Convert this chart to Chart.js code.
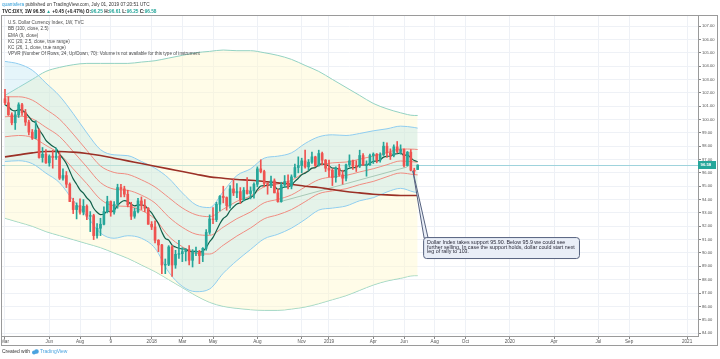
<!DOCTYPE html>
<html>
<head>
<meta charset="utf-8">
<script src="https://cdn.jsdelivr.net/npm/chart.js@4.4.1/dist/chart.umd.min.js"></script>
<style>
  html, body { margin: 0; padding: 0; background: #fff; }
  canvas { display: block; }
</style>
</head>
<body>
<canvas id="chart" width="720" height="359"></canvas>
<script>
// weekly DXY candles, week 0 = 6 Mar 2017, week 121 = 1 Jul 2019
const opens = [
  101.55,101.25,100.35,99.75,100.35,101.10,100.50,99.80,99.05,98.60,
  99.20,97.15,97.40,96.75,97.25,97.15,97.25,95.60,95.80,95.15,
  93.85,93.25,93.55,93.05,93.50,92.75,92.80,91.30,91.85,92.15,
  93.10,93.85,93.05,93.65,94.90,94.80,94.40,93.60,92.75,93.10,
  93.90,93.55,93.35,92.15,91.95,90.95,90.60,89.10,89.15,90.45,
  89.10,89.90,89.95,90.10,90.25,89.45,90.05,90.10,89.80,90.35,
  91.55,92.55,92.50,93.65,94.25,94.15,93.55,94.80,94.50,94.60,
  94.00,94.70,94.45,94.65,95.15,96.30,96.10,95.20,95.10,95.40,
  94.50,93.85,95.10,95.35,95.00,95.70,96.40,96.55,96.90,96.45,
  96.80,97.20,96.55,97.45,96.95,96.35,96.20,95.65,96.35,95.85,
  95.60,96.60,96.90,96.55,96.50,97.30,96.55,96.60,97.30,97.40,
  96.95,97.35,98.00,97.50,97.30,97.95,97.60,97.75,96.55,97.55,
  96.20,96.25
];
const highs = [
  102.26,101.70,100.50,100.60,101.25,101.20,100.75,99.95,99.25,99.90,
  99.30,97.90,97.75,97.35,97.70,97.85,97.55,96.30,96.10,95.25,
  94.10,93.75,94.05,94.00,93.60,93.10,92.90,92.20,92.60,93.45,
  94.25,93.90,93.85,95.15,95.15,95.00,94.70,93.80,93.35,94.10,
  94.20,94.00,93.40,92.35,92.40,91.00,90.65,89.55,90.55,90.55,
  90.20,90.95,90.40,90.30,90.55,90.25,90.45,90.20,90.40,91.75,
  92.85,93.40,93.80,94.30,95.00,94.20,95.05,95.55,95.20,94.90,
  94.90,95.65,94.95,95.25,96.45,96.98,96.20,95.25,95.75,95.55,
  94.80,95.30,95.80,95.85,95.85,96.65,97.20,97.10,97.70,97.00,
  97.55,97.25,97.70,97.55,97.00,96.95,96.30,96.45,96.65,96.20,
  96.65,97.35,96.95,96.90,97.70,97.45,96.90,97.40,97.50,97.45,
  97.50,98.30,98.25,97.80,98.10,98.35,98.10,97.80,97.60,97.75,
  96.35,96.61
];
const lows = [
  101.10,100.30,99.60,99.25,100.15,100.30,99.55,98.85,98.50,98.55,
  97.10,96.80,96.70,96.50,96.35,97.00,95.50,95.45,94.90,93.85,
  92.95,92.55,92.90,92.85,92.50,91.60,91.00,91.10,91.30,92.10,
  93.00,92.75,92.90,93.35,94.20,94.20,93.45,92.50,92.60,93.00,
  93.25,93.10,92.15,91.75,90.75,90.10,88.45,88.45,89.05,88.25,
  88.85,89.60,89.35,89.40,89.10,88.95,89.80,89.20,89.35,90.20,
  91.40,92.20,92.35,93.15,93.75,93.20,93.35,94.30,94.15,93.70,
  93.90,94.40,94.05,94.10,94.95,96.00,94.95,94.40,94.90,94.50,
  93.80,93.80,94.90,94.80,94.80,95.65,96.00,96.00,96.35,96.20,
  96.70,96.45,96.50,96.60,96.10,95.70,95.05,95.30,95.75,95.15,
  95.40,96.45,96.25,96.10,96.40,96.55,95.75,96.55,96.70,96.75,
  96.80,97.30,97.15,97.00,97.20,97.50,97.40,96.45,96.50,96.15,
  95.85,96.25
];
const closes = [
  101.25,100.35,99.75,100.35,101.10,100.50,99.80,99.05,98.60,99.20,
  97.15,97.40,96.75,97.25,97.15,97.25,95.60,95.80,95.15,93.85,
  93.25,93.55,93.05,93.50,92.75,92.80,91.30,91.85,92.15,93.10,
  93.85,93.05,93.65,94.90,94.80,94.40,93.60,92.75,93.10,93.90,
  93.55,93.35,92.15,91.95,90.95,90.60,89.10,89.15,90.45,89.10,
  89.90,89.95,90.10,90.25,89.45,90.10,90.15,89.80,90.35,91.55,
  92.55,92.50,93.65,94.25,94.15,93.55,94.80,94.50,94.60,94.00,
  94.70,94.45,94.65,95.15,96.30,96.10,95.20,95.10,95.40,94.50,
  93.85,95.10,95.35,95.00,95.70,96.40,96.55,96.90,96.45,96.80,
  97.20,96.55,97.45,96.95,96.35,96.20,95.65,96.35,95.85,95.60,
  96.60,96.90,96.50,96.45,97.30,96.60,96.65,97.30,97.40,96.95,
  97.35,98.00,97.50,97.30,97.95,97.60,97.75,96.55,97.55,96.20,
  96.13,96.58
];

// EMA (9, close), one value per week
const ema9 = [
  101.10,100.95,100.71,100.64,100.73,100.68,100.50,100.21,99.89,99.75,
  99.23,98.86,98.44,98.20,97.99,97.84,97.39,97.07,96.69,96.12,
  95.55,95.15,94.73,94.48,94.13,93.86,93.35,93.05,92.87,92.92,
  93.11,93.10,93.21,93.55,93.80,93.92,93.86,93.64,93.53,93.60,
  93.59,93.54,93.26,93.00,92.59,92.19,91.57,91.09,90.96,90.59,
  90.45,90.35,90.30,90.29,90.12,90.12,90.12,90.06,90.12,90.41,
  90.84,91.17,91.67,92.19,92.58,92.77,93.18,93.44,93.67,93.74,
  93.93,94.03,94.15,94.35,94.74,95.01,95.05,95.06,95.13,95.00,
  94.77,94.84,94.94,94.95,95.10,95.36,95.60,95.86,95.98,96.14,
  96.35,96.39,96.60,96.67,96.61,96.53,96.35,96.35,96.25,96.12,
  96.22,96.36,96.39,96.41,96.59,96.59,96.59,96.73,96.86,96.88,
  96.97,97.18,97.24,97.25,97.39,97.43,97.49,97.30,97.35,97.12,
  96.92,96.85
];

// band lines read every 4 weeks
const bandWeeks = [0,4,8,12,16,20,24,28,32,36,40,44,48,52,56,60,64,68,72,76,80,84,88,92,96,100,104,108,112,116,120,121];
const bbUpper = [101.8,102.4,103.0,103.6,103.9,104.1,104.2,104.2,104.2,104.2,104.3,104.4,104.6,104.8,105.0,105.1,105.2,105.15,105.15,105.0,104.8,104.5,104.05,103.6,103.0,102.4,101.8,101.2,100.8,100.5,100.3,100.3];
const bbBasis = [97.2,97.35,97.5,97.6,97.6,97.55,97.45,97.3,97.1,96.9,96.7,96.5,96.3,96.1,95.9,95.7,95.6,95.5,95.45,95.35,95.25,95.15,95.0,94.9,94.75,94.6,94.5,94.4,94.35,94.3,94.3,94.3];
const bbLower = [92.6,92.3,92.0,91.6,91.3,91.0,90.7,90.4,90.0,89.6,89.1,88.6,88.0,87.4,86.8,86.3,86.0,85.85,85.75,85.7,85.7,85.8,85.95,86.2,86.5,86.8,87.2,87.6,87.9,88.1,88.3,88.3];
const kc20Upper = [104.35,104.16,103.69,102.73,101.76,100.44,99.0,97.74,97.35,97.29,96.85,96.35,95.60,94.50,93.60,93.40,94.60,95.80,96.30,97.10,97.25,97.50,98.20,98.70,98.85,98.80,98.95,99.15,99.30,99.50,99.40,99.35];
const kc20Lower = [96.85,96.91,96.69,95.98,95.26,93.94,92.76,91.49,91.10,91.29,91.10,90.35,88.57,87.50,87.10,87.30,88.48,89.43,90.26,91.06,91.40,91.86,92.51,93.21,93.36,93.52,93.91,94.14,94.57,94.84,94.56,94.53];
const kc26Upper = [101.70,101.70,101.45,100.76,100.02,98.90,97.69,96.52,96.03,95.89,95.48,94.94,94.15,93.37,92.86,92.72,93.28,93.87,94.27,94.96,95.16,95.45,96.04,96.54,96.75,96.81,97.02,97.26,97.51,97.79,97.77,97.75];
const kc26Mid = [100.2,100.25,100.05,99.41,98.72,97.60,96.44,95.27,94.78,94.69,94.33,93.74,92.70,91.92,91.41,91.32,91.93,92.57,93.07,93.76,94.01,94.35,94.94,95.49,95.70,95.81,96.07,96.31,96.61,96.89,96.82,96.80];
const kc26Lower = [98.70,98.80,98.65,98.06,97.42,96.30,95.19,94.02,93.53,93.49,93.18,92.54,91.25,90.47,89.96,89.92,90.58,91.27,91.87,92.56,92.86,93.25,93.84,94.44,94.65,94.81,95.12,95.36,95.71,95.99,95.87,95.85];

// drawn trend line (week, value)
const trendWeeks = [80.4, 117.9];
const trendValues = [93.82, 96.44];

// x axis labels at the first weekly bar of the month
const tickWeeks = [0,13,22,31,43,52,61,74,87,95,108,117,126,135,148,161,174,183,200];
const tickLabels = ['Mar','Jun','Aug','9','2018','Mar','May','Aug','Nov','2019','Apr','Jun','Aug','Oct','2020','Apr','Jul','Sep','2021'];
const priceTicks = [84,85,86,87,88,89,90,91,92,93,94,95,96,97,98,99,100,101,102,103,104,105,106,107];

const lastPrice = 96.58;

// callout: anchor (week, value) and box corners (week, value)
const noteAnchor = [119.6, 96.15];
const noteBox = [122.6, 91.19, 168.3, 89.62];
const noteLines = [
  'Dollar Index takes support 95.90. Below 95.9 we could see',
  'further selling. In case the support holds, dollar could start next',
  'leg of rally to 103.'
];
const legendLines = [
  'U.S. Dollar Currency Index, 1W, TVC',
  'BB (100, close, 2.5)',
  'EMA (9, close)',
  'KC (20, 2.5, close, true range)',
  'KC (26, 1, close, true range)',
  'VPVR (Number Of Rows, 24, Up/Down, 70): Volume is not available for this type of instrument'
];

const GREEN = '#26a69a';
const RED = '#ef5350';
const FONT = '"Liberation Sans", Arial, sans-serif';

const candleColors = closes.map((c, i) => c >= opens[i] ? GREEN : RED);
const pts = (arr) => bandWeeks.map((w, k) => ({ x: w, y: arr[k] }));

function lineSet(label, data, color, width, order, extra) {
  return Object.assign({
    type: 'line', label, data, borderColor: color, borderWidth: width,
    pointRadius: 0, fill: false, order, cubicInterpolationMode: 'monotone'
  }, extra || {});
}

function fitFont(ctx, text, width, weight) {
  ctx.font = `${weight} 10px ${FONT}`;
  return 10 * width / ctx.measureText(text).width;
}

function drawRuns(ctx, runs, x, y, size, weight) {
  ctx.font = `${weight} ${size}px ${FONT}`;
  runs.forEach(([t, c]) => {
    ctx.fillStyle = c;
    ctx.fillText(t, x, y);
    x += ctx.measureText(t).width;
  });
}

const overlay = {
  id: 'overlay',
  beforeDatasetsDraw(chart) {
    const { ctx, chartArea: a, scales: { y } } = chart;
    const py = Math.round(y.getPixelForValue(lastPrice)) + 0.5;
    ctx.save();
    ctx.strokeStyle = '#9fd3dc';
    ctx.lineWidth = 1;
    ctx.beginPath();
    ctx.moveTo(a.left, py);
    ctx.lineTo(a.right, py);
    ctx.stroke();
    ctx.restore();
  },
  afterDraw(chart) {
    const { ctx, chartArea: a, scales: { x, y } } = chart;
    ctx.save();
    ctx.textBaseline = 'middle';

    // callout
    const ax = x.getPixelForValue(noteAnchor[0]);
    const ay = y.getPixelForValue(noteAnchor[1]);
    const bx1 = x.getPixelForValue(noteBox[0]);
    const by1 = y.getPixelForValue(noteBox[1]);
    const bx2 = x.getPixelForValue(noteBox[2]);
    const by2 = y.getPixelForValue(noteBox[3]);
    ctx.strokeStyle = '#56627e';
    ctx.fillStyle = '#e9eef7';
    ctx.lineWidth = 1;
    ctx.beginPath();
    ctx.moveTo(ax, ay);
    ctx.lineTo(bx1 + 1, by1 + 1);
    ctx.lineTo(bx1 + 5, by1 + 1);
    ctx.closePath();
    ctx.fill();
    ctx.stroke();
    ctx.beginPath();
    ctx.roundRect(bx1 + 0.5, by1 + 0.5, bx2 - bx1, by2 - by1, 3);
    ctx.fill();
    ctx.stroke();
    const ns = fitFont(ctx, noteLines[1], bx2 - bx1 - 8, 'normal');
    ctx.fillStyle = '#2b2b3a';
    ctx.font = `normal ${ns}px ${FONT}`;
    noteLines.forEach((t, i) => ctx.fillText(t, bx1 + 4, by1 + 5.5 + i * 4.6));

    // legend block
    const ls = fitFont(ctx, legendLines[5], 192, 'normal');
    ctx.font = `normal ${ls}px ${FONT}`;
    ctx.fillStyle = '#4a4a4a';
    legendLines.forEach((t, i) => ctx.fillText(t, 8, 23 + i * 6.2));

    // header
    const h1 = [['quantsfera', '#2b9ad6'], [' published on TradingView.com, July 01, 2019 07:20:51 UTC', '#333']];
    const hs = fitFont(ctx, h1.map(r => r[0]).join(''), 148, 'normal');
    drawRuns(ctx, h1, 2, 5, hs, 'normal');
    const h2 = [['TVC:DXY, 1W 96.58 ', '#222'], ['\u25B2', GREEN], [' +0.45 (+0.47%) O:', '#222'], ['96.25', GREEN],
      [' H:', '#222'], ['96.61', GREEN], [' L:', '#222'], ['96.25', GREEN], [' C:', '#222'], ['96.58', GREEN]];
    const hs2 = fitFont(ctx, h2.map(r => r[0]).join(''), 155, 'bold');
    drawRuns(ctx, h2, 2, 12, hs2, 'bold');

    // frame
    ctx.strokeStyle = '#9a9a9a';
    ctx.lineWidth = 1;
    ctx.strokeRect(1.5, 15.5, 716, 330);

    // last price tag
    const py = Math.round(y.getPixelForValue(lastPrice));
    ctx.fillStyle = GREEN;
    ctx.fillRect(a.right, py - 4, 18, 8);
    ctx.fillStyle = '#fff';
    ctx.font = `bold 4.3px ${FONT}`;
    ctx.fillText(lastPrice.toFixed(2), a.right + 2.5, py + 0.3);

    // footer
    const fs = fitFont(ctx, 'Created with', 28, 'normal');
    ctx.font = `normal ${fs}px ${FONT}`;
    ctx.fillStyle = '#333';
    ctx.fillText('Created with', 2, 352);
    ctx.fillStyle = '#4aa3df';
    ctx.beginPath();
    ctx.arc(34, 352.5, 2, 0, Math.PI * 2);
    ctx.arc(36.5, 351.5, 2.3, 0, Math.PI * 2);
    ctx.fill();
    ctx.fillText('TradingView', 40, 352);
    ctx.restore();
  }
};

new Chart(document.getElementById('chart'), {
  type: 'bar',
  data: {
    datasets: [
      {
        type: 'bar', label: 'body', order: 1, grouped: false, barThickness: 2,
        data: opens.map((o, i) => ({ x: i, y: [o, closes[i]] })),
        backgroundColor: candleColors, borderWidth: 0
      },
      {
        type: 'bar', label: 'wick', order: 2, grouped: false, barThickness: 1,
        data: lows.map((l, i) => ({ x: i, y: [l, highs[i]] })),
        backgroundColor: candleColors, borderWidth: 0
      },
      lineSet('BB upper', pts(bbUpper), '#93d2c2', 1, 10, { fill: { target: 3 }, backgroundColor: 'rgba(255, 249, 205, 0.45)' }),
      lineSet('BB lower', pts(bbLower), '#93d2c2', 1, 10),
      lineSet('KC20 upper', pts(kc20Upper), '#8fcdf0', 1, 9, { fill: { target: 5 }, backgroundColor: 'rgba(150, 215, 235, 0.25)' }),
      lineSet('KC20 lower', pts(kc20Lower), '#8fcdf0', 1, 9),
      lineSet('KC26 upper', pts(kc26Upper), '#f08c80', 1, 8),
      lineSet('KC26 mid', pts(kc26Mid), '#f08c80', 1, 8),
      lineSet('KC26 lower', pts(kc26Lower), '#f08c80', 1, 8),
      lineSet('trend', trendWeeks.map((w, k) => ({ x: w, y: trendValues[k] })), '#a8c8b6', 1, 7),
      lineSet('BB basis', pts(bbBasis), '#9b3026', 1.6, 6),
      lineSet('EMA 9', ema9.map((v, i) => ({ x: i, y: v })), '#11604a', 1.2, 5)
    ]
  },
  options: {
    responsive: false,
    animation: false,
    events: [],
    layout: { padding: { left: 1, right: 3, top: 16, bottom: 13 } },
    plugins: { legend: { display: false }, tooltip: { enabled: false } },
    scales: {
      x: {
        type: 'linear', min: -1.17, max: 203.2, offset: false,
        afterBuildTicks: (s) => { s.ticks = tickWeeks.map(v => ({ value: v })); },
        afterFit: (s) => { s.height = 10; },
        grid: { color: '#eef1f6', tickColor: '#888', tickLength: 3, offset: false },
        border: { color: '#9a9a9a' },
        ticks: {
          autoSkip: false, maxRotation: 0, padding: 0, color: '#555',
          font: { size: 4.6, family: FONT },
          callback: (v) => tickLabels[tickWeeks.indexOf(v)]
        }
      },
      y: {
        type: 'linear', position: 'right', min: 83.78, max: 107.75,
        afterBuildTicks: (s) => { s.ticks = priceTicks.map(v => ({ value: v })); },
        afterFit: (s) => { s.width = 19; },
        grid: { color: '#eef1f6', tickColor: '#888', tickLength: 3 },
        border: { color: '#9a9a9a' },
        ticks: {
          padding: 1, color: '#555', font: { size: 4.1, family: FONT },
          callback: (v) => v.toFixed(2)
        }
      }
    }
  },
  plugins: [overlay]
});
</script>
</body>
</html>
